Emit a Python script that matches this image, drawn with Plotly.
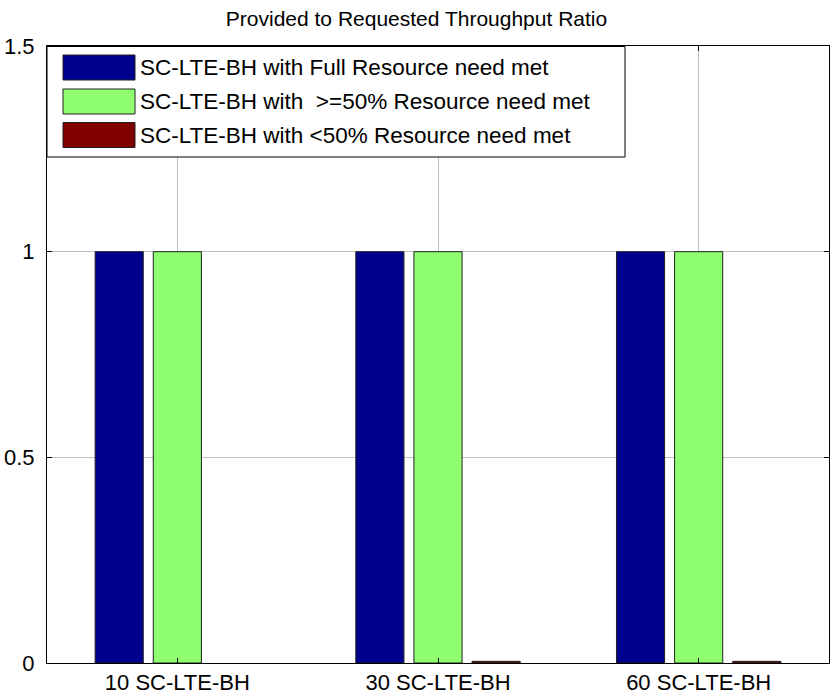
import plotly.graph_objects as go

categories = ["10 SC-LTE-BH", "30 SC-LTE-BH", "60 SC-LTE-BH"]
series_names = [
    "SC-LTE-BH with Full Resource need met",
    "SC-LTE-BH with  >=50% Resource need met",
    "SC-LTE-BH with <50% Resource need met",
]
full_met = [1.0, 1.0, 1.0]
half_met = [1.0, 1.0, 1.0]
below_half = [0.0, 0.004, 0.004]
colors = ["#00008F", "#8FFF70", "#800000"]
y_ticks = [0, 0.5, 1, 1.5]
y_ticktext = ["0", "0.5", "1", "1.5"]

FONT = "Liberation Sans, Arial, sans-serif"
x_pos = list(range(len(categories)))

fig = go.Figure()
for name, vals, col in zip(series_names, [full_met, half_met, below_half], colors):
    fig.add_trace(go.Bar(
        x=x_pos, y=vals, name=name, marker_color=col,
        marker_line=dict(color="#202020", width=[1 if v != 0 else 0 for v in vals]),
        showlegend=False,
    ))

W, H = 833, 700
L, R, T, B = 47, 829, 46, 663
pw, ph = R - L, B - T

def px(x):
    return (x - L) / pw

def py(y):
    return (B - y) / ph

shapes = [dict(type="rect", xref="paper", yref="paper",
               x0=px(47), x1=px(625), y0=py(157), y1=py(46.5),
               line=dict(color="black", width=1), fillcolor="white", layer="above")]
annotations = []
row_centers = [67.5, 101.5, 135]
for name, col, yc in zip(series_names, colors, row_centers):
    shapes.append(dict(type="rect", xref="paper", yref="paper",
                       x0=px(63), x1=px(135), y0=py(yc + 12.5), y1=py(yc - 12.5),
                       line=dict(color="#202020", width=1), fillcolor=col, layer="above"))
    annotations.append(dict(xref="paper", yref="paper", x=px(138), y=py(yc),
                            xanchor="left", yanchor="middle", text=name, showarrow=False,
                            font=dict(family=FONT, size=22.5, color="black")))

fig.update_layout(
    width=W, height=H,
    margin=dict(l=L, r=W - R, t=T, b=H - B, pad=0, autoexpand=False),
    paper_bgcolor="white", plot_bgcolor="white",
    barmode="group", bargap=0.331, bargroupgap=0.172,
    title=dict(text="Provided to Requested Throughput Ratio", x=0.5, xanchor="center",
               y=1 - 19 / H, yanchor="middle",
               font=dict(family=FONT, size=21, color="black")),
    font=dict(family=FONT, size=22, color="black"),
    shapes=shapes, annotations=annotations,
    xaxis=dict(range=[-0.5, 2.5], tickvals=x_pos, ticktext=categories,
               automargin=False,
               showline=True, linecolor="black", linewidth=1, mirror="ticks",
               ticks="inside", ticklen=5, tickcolor="black",
               showgrid=True, gridcolor="#c0c0c0", gridwidth=1, zeroline=False,
               tickfont=dict(family=FONT, size=22, color="black")),
    yaxis=dict(range=[0, 1.5], tickvals=y_ticks, ticktext=y_ticktext,
               automargin=False, ticklabelstandoff=7,
               showline=True, linecolor="black", linewidth=1, mirror="ticks",
               ticks="inside", ticklen=5, tickcolor="black",
               showgrid=True, gridcolor="#c0c0c0", gridwidth=1, zeroline=False,
               tickfont=dict(family=FONT, size=22, color="black")),
)

fig.write_html("out.html", config={"displayModeBar": False},
               post_script="document.body.style.margin='0';document.body.style.padding='0';")
